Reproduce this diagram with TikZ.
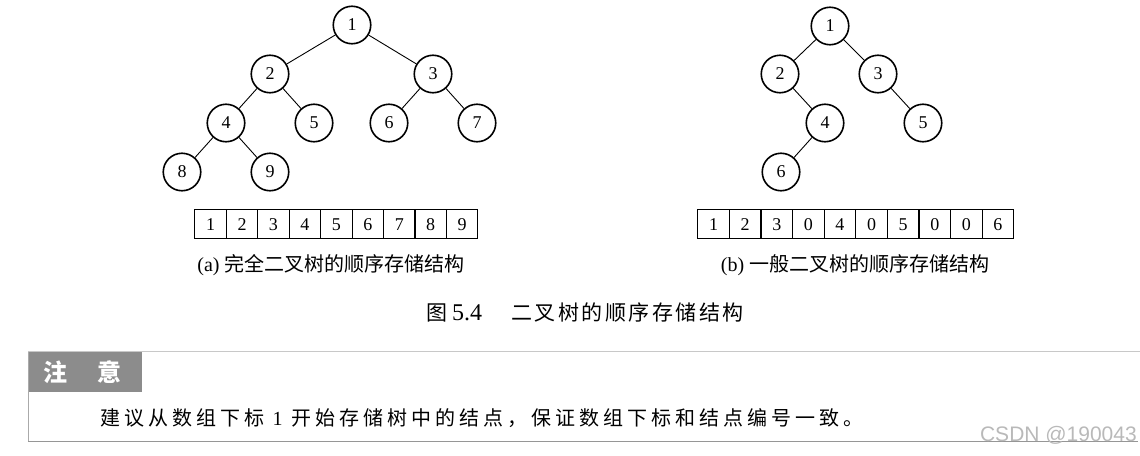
\documentclass[tikz,border=0pt]{standalone}
\usepackage{fontspec}
\setmainfont{Liberation Serif}
\newfontfamily\cjk{Noto Sans CJK SC}
\newfontfamily\wmfont{Liberation Sans}
\begin{document}
\begin{tikzpicture}[x=1pt,y=-1pt,
  tn/.style={circle,draw,line width=1.6pt,minimum size=37.5pt,inner sep=0pt,font=\fontsize{18}{18}\selectfont},
  ed/.style={line width=0.9pt},
  cell/.style={draw,line width=1pt,minimum width=31.5pt,minimum height=29.3pt,inner sep=0pt,text height=12.2pt,text depth=0pt,anchor=north west,font=\fontsize{18}{18}\selectfont},
  captext/.style={inner sep=0pt,font=\fontsize{20}{20}\selectfont}]
\useasboundingbox (0,0) rectangle (1140,455);
% tree (a)
\node[tn] (a1) at (352,25) {1};
\node[tn] (a2) at (270,74) {2};
\node[tn] (a3) at (433,74) {3};
\node[tn] (a4) at (226,123) {4};
\node[tn] (a5) at (314,123) {5};
\node[tn] (a6) at (389,123) {6};
\node[tn] (a7) at (477,123) {7};
\node[tn] (a8) at (182,172) {8};
\node[tn] (a9) at (270,172) {9};
\draw[ed] (a1)--(a2) (a1)--(a3) (a2)--(a4) (a2)--(a5) (a3)--(a6) (a3)--(a7) (a4)--(a8) (a4)--(a9);
\foreach \v [count=\i from 0] in {1,...,9}
  \node[cell] (ca\i) at (194.3+31.45*\i,209) {\v};
\node[captext] (capa) at (331,265) {(a) {\cjk 完全二叉树的顺序存储结构}};
% tree (b)
\node[tn] (b1) at (830,26) {1};
\node[tn] (b2) at (780,74) {2};
\node[tn] (b3) at (878,74) {3};
\node[tn] (b4) at (825,123) {4};
\node[tn] (b5) at (923,123) {5};
\node[tn] (b6) at (781,172) {6};
\draw[ed] (b1)--(b2) (b1)--(b3) (b2)--(b4) (b3)--(b5) (b4)--(b6);
\foreach \v [count=\i from 0] in {1,2,3,0,4,0,5,0,0,6}
  \node[cell] (cb\i) at (697.3+31.6*\i,209) {\v};
\node[captext] (capb) at (855,265) {(b) {\cjk 一般二叉树的顺序存储结构}};
% figure caption
\node[inner sep=0pt,anchor=west,font=\fontsize{21}{21}\selectfont\cjk] (fig) at (426,313) {图};
\node[inner sep=0pt,anchor=west,font=\fontsize{24}{24}\selectfont] (fignum) at (452,313) {5.4};
\node[inner sep=0pt,anchor=west,font=\fontsize{21}{21}\selectfont\cjk\addfontfeature{LetterSpace=12}] (figtxt) at (511,313) {二叉树的顺序存储结构};
% note box
\fill[fill={rgb,255:red,140;green,140;blue,140}] (28.3,351.7) rectangle (142.3,391.7);
\draw[line width=1.2pt,color={rgb,255:red,200;green,200;blue,200}] (28.3,351.7) -- (1140,351.7);
\draw[line width=1pt,color={rgb,255:red,170;green,170;blue,170}] (28.3,351.7) -- (28.3,441.7);
\draw[line width=1.5pt,color={rgb,255:red,150;green,150;blue,150}] (28.3,441.7) -- (1138,441.7);
\node[inner sep=0pt,text=white,font=\fontsize{24}{24}\selectfont\cjk\bfseries] (zhu) at (55.5,372) {注};
\node[inner sep=0pt,text=white,font=\fontsize{24}{24}\selectfont\cjk\bfseries] (yi) at (109.5,372) {意};
\node[inner sep=0pt,anchor=west,font=\fontsize{20}{20}\selectfont\cjk\addfontfeature{LetterSpace=20}] (note) at (100,418) {建议从数组下标 {\rmfamily 1} 开始存储树中的结点，保证数组下标和结点编号一致。};
\node[inner sep=0pt,anchor=east,text={rgb,255:red,185;green,185;blue,185},font=\fontsize{21}{21}\selectfont\wmfont] (wm) at (1137,435) {CSDN @190043};
\end{tikzpicture}
\end{document}
